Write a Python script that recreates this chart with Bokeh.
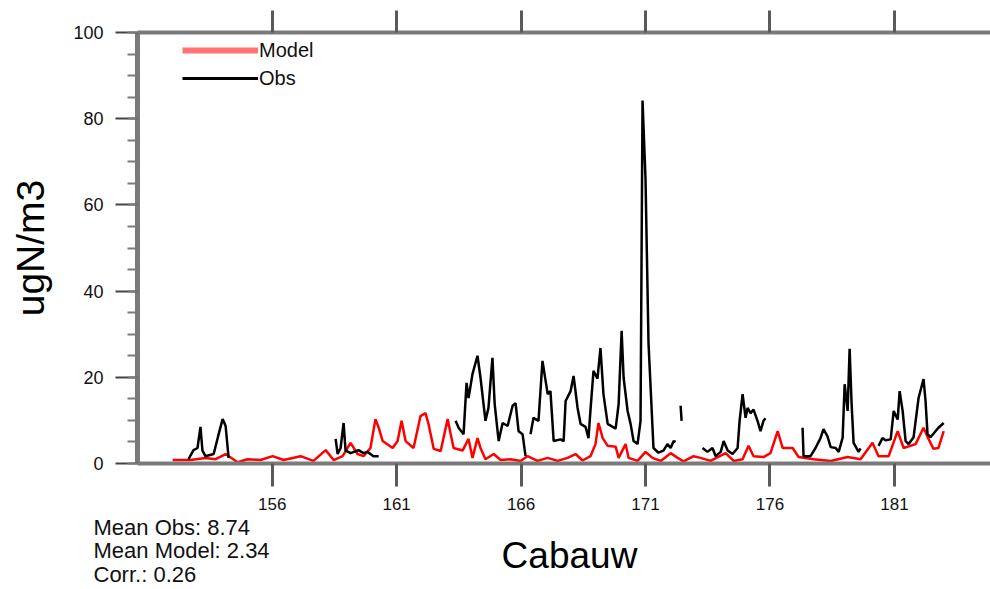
import numpy as np
from bokeh.plotting import figure
from bokeh.layouts import column
from bokeh.models import Range1d, LinearAxis, FixedTicker, Label, Legend, LegendItem
from bokeh.embed import file_html
from bokeh.resources import INLINE

nan = float("nan")

# ---------------- data (day of year, ugN/m3) ----------------
model_day = [152.00, 152.72, 153.32, 153.73, 154.13, 154.61, 155.01, 155.53, 156.02, 156.46,
             157.14, 157.66, 158.15, 158.47, 158.83, 159.15, 159.43, 159.67, 159.95, 160.15,
             160.28, 160.44, 160.84, 161.04, 161.20, 161.36, 161.68, 161.96, 162.16, 162.28,
             162.49, 162.77, 163.05, 163.17, 163.29, 163.65, 163.89, 164.05, 164.25, 164.37,
             164.57, 164.90, 165.18, 165.58, 165.98, 166.26, 166.66, 167.07, 167.47, 167.87,
             168.19, 168.47, 168.79, 168.99, 169.11, 169.28, 169.48, 169.80, 169.92, 170.20,
             170.32, 170.68, 171.00, 171.28, 171.61, 172.01, 172.29, 172.53, 172.93, 173.21,
             173.61, 174.22, 174.54, 174.90, 175.14, 175.34, 175.74, 176.02, 176.31, 176.51,
             176.91, 177.15, 177.75, 178.44, 179.12, 179.64, 180.12, 180.36, 180.77, 181.13,
             181.37, 181.85, 182.17, 182.37, 182.57, 182.77, 182.98]
model_val = [0.8, 0.8, 1.3, 1.0, 2.2, 0.3, 1.0, 0.8, 1.7, 0.8,
             1.7, 0.6, 3.1, 0.8, 1.7, 4.8, 2.2, 1.7, 3.6, 10.3,
             8.3, 5.2, 3.6, 5.2, 9.9, 5.2, 3.6, 11.0, 11.7, 9.2,
             3.4, 2.9, 10.3, 6.9, 3.6, 3.0, 5.7, 1.3, 5.9, 3.6,
             1.0, 2.2, 0.8, 1.0, 0.6, 1.7, 0.6, 1.3, 0.6, 1.3,
             2.2, 0.7, 1.7, 4.5, 9.4, 5.9, 4.1, 3.9, 1.3, 4.5,
             1.3, 0.6, 2.7, 1.3, 0.6, 2.4, 1.3, 0.5, 1.7, 1.3,
             0.6, 2.4, 0.6, 1.0, 4.1, 1.7, 1.5, 2.4, 7.5, 3.6,
             3.6, 1.5, 1.0, 0.6, 1.5, 1.0, 4.8, 1.7, 1.7, 7.5,
             3.6, 4.5, 8.3, 5.7, 3.4, 3.6, 7.5]

obs_day = [152.64, 152.84, 153.00, 153.12, 153.20, 153.32, 153.65, 153.85, 154.01, 154.13, 154.25, 154.30,
           158.55, 158.63, 158.75, 158.87, 158.95, 159.15, 159.47, 159.67, 159.83, 160.07, 160.28, 160.33,
           163.37, 163.49, 163.69, 163.81, 163.89, 164.05, 164.25, 164.37, 164.57, 164.69, 164.85, 164.94,
           165.10, 165.26, 165.46, 165.66, 165.78, 165.90, 166.06, 166.18, 166.25,
           166.38, 166.50, 166.70, 166.86, 167.07, 167.18, 167.31, 167.59, 167.71, 167.79, 167.99, 168.11,
           168.27, 168.39, 168.59, 168.71, 168.79, 168.91, 169.07, 169.19, 169.31, 169.48, 169.68, 169.80,
           169.92, 170.04, 170.12, 170.28, 170.40, 170.52, 170.68, 170.80, 170.88, 171.00, 171.12, 171.32,
           171.52, 171.72, 171.88, 172.01, 172.13, 172.21, 172.30,
           172.41, 172.45, 172.50,
           173.29, 173.49, 173.69, 173.82, 174.02, 174.14, 174.30, 174.50, 174.70, 174.78, 174.90, 175.02,
           175.10, 175.22, 175.34, 175.50, 175.62, 175.74, 175.82, 175.90,
           177.31, 177.35, 177.63, 177.83, 178.03, 178.15, 178.31, 178.44, 178.64, 178.76, 178.92, 179.00,
           179.12, 179.20, 179.28, 179.36, 179.56, 179.64, 179.70,
           180.36, 180.52, 180.64, 180.85, 180.97, 181.13, 181.21, 181.33, 181.45, 181.57, 181.77, 181.97,
           182.17, 182.25, 182.33, 182.45, 182.65, 182.77, 182.98]
obs_val = [1.0, 3.1, 3.6, 8.5, 3.0, 1.7, 2.2, 6.8, 10.3, 8.7, 1.3, nan,
           5.7, 2.2, 3.6, 9.4, 3.0, 2.4, 3.1, 2.4, 2.7, 1.7, 1.7, nan,
           9.9, 8.3, 6.8, 18.7, 15.2, 20.8, 25.0, 19.9, 9.9, 12.9, 24.5, 13.8,
           5.2, 9.4, 8.7, 13.4, 14.0, 7.5, 6.8, 1.7, nan,
           6.8, 10.6, 9.9, 23.8, 16.1, 16.8, 5.2, 5.6, 5.2, 14.5, 16.8, 20.3,
           12.9, 9.2, 8.5, 5.9, 12.5, 21.5, 19.7, 26.8, 16.1, 9.2, 8.5, 8.1,
           13.8, 30.8, 19.9, 12.2, 9.2, 5.2, 4.5, 9.9, 84.2, 66.0, 28.0, 3.6,
           2.5, 3.0, 4.5, 3.6, 5.2, 5.0, nan,
           13.4, 9.9, nan,
           3.6, 2.7, 3.6, 1.7, 2.7, 5.2, 3.0, 2.2, 3.6, 9.9, 16.1, 10.6,
           12.9, 11.7, 12.5, 9.9, 7.5, 9.9, 10.5, nan,
           8.3, 1.7, 1.7, 3.6, 5.9, 8.0, 6.3, 3.8, 3.6, 2.7, 6.0, 18.4,
           12.2, 26.6, 13.8, 4.8, 2.7, 3.5, nan,
           4.1, 5.9, 5.4, 5.6, 12.2, 10.2, 16.8, 12.2, 5.2, 4.5, 6.1, 15.2,
           19.6, 14.5, 6.8, 6.1, 7.5, 8.3, 9.4]

x_ticks = [156, 161, 166, 171, 176, 181]
y_ticks = [0, 20, 40, 60, 80, 100]
y_minor = list(range(0, 101, 5))
series_names = ["Model", "Obs"]
stats_lines = ["Mean Obs: 8.74", "Mean Model: 2.34", "Corr.: 0.26"]
station = "Cabauw"
y_title = "ugN/m3"

FONT = "Liberation Sans"
AXIS_GREY = "#7a7a7a"
TOP_H = 520          # height of the main chart figure
OVERLAP = 10         # strip is pulled up by this much
BOTTOM_H = 589 - TOP_H + OVERLAP

# ---------------- main chart ----------------
p = figure(width=990, height=TOP_H, output_backend="svg", toolbar_location=None,
           x_range=Range1d(150.59, 184.86), y_range=Range1d(0, 100),
           min_border_left=137, min_border_right=0, min_border_top=32, min_border_bottom=57)
p.outline_line_color = None
p.grid.visible = False
p.background_fill_color = "white"
p.border_fill_color = "white"

# bottom axis
xa = p.xaxis[0]
xa.ticker = FixedTicker(ticks=x_ticks, minor_ticks=[])
xa.axis_line_color = AXIS_GREY
xa.axis_line_width = 4
xa.major_tick_out = 23
xa.major_tick_in = 0
xa.minor_tick_out = 0
xa.minor_tick_in = 0
xa.major_tick_line_color = "#5a5a5a"
xa.major_tick_line_width = 3
xa.major_label_text_font = FONT
xa.major_label_text_font_size = "17px"
xa.major_label_text_color = "#111111"
xa.major_label_standoff = 11

# left axis
ya = p.yaxis[0]
ya.ticker = FixedTicker(ticks=y_ticks, minor_ticks=y_minor)
ya.axis_line_color = AXIS_GREY
ya.axis_line_width = 5
ya.major_tick_out = 22
ya.major_tick_in = 0
ya.minor_tick_out = 10
ya.minor_tick_in = 0
ya.major_tick_line_color = "#444444"
ya.major_tick_line_width = 2
ya.minor_tick_line_color = AXIS_GREY
ya.minor_tick_line_width = 2
ya.major_label_text_font = FONT
ya.major_label_text_font_size = "18px"
ya.major_label_text_color = "#111111"
ya.major_label_standoff = 12
ya.axis_label = y_title
ya.axis_label_text_font = FONT
ya.axis_label_text_font_size = "39px"
ya.axis_label_text_font_style = "normal"
ya.axis_label_text_color = "black"
ya.axis_label_standoff = 18

# top axis (ticks only, no labels)
top = LinearAxis(ticker=FixedTicker(ticks=x_ticks, minor_ticks=[]),
                 major_label_overrides={t: "" for t in x_ticks},
                 major_label_text_font_size="10px", major_label_standoff=0,
                 axis_line_color=AXIS_GREY, axis_line_width=4,
                 major_tick_out=22, major_tick_in=0, minor_tick_out=0, minor_tick_in=0,
                 major_tick_line_color="#5a5a5a", major_tick_line_width=3)
p.add_layout(top, "above")

# data lines
p.line(model_day, model_val, line_color="#ff0000", line_width=2.5)
p.line(obs_day, obs_val, line_color="black", line_width=2.5)

# legend (glyph-only renderers, one invisible NaN point each)
leg_model = p.line(x=[nan], y=[nan], line_color="#ff7373", line_width=6)
leg_obs = p.line(x=[nan], y=[nan], line_color="black", line_width=3)
legend = Legend(items=[LegendItem(label=series_names[0], renderers=[leg_model]),
                       LegendItem(label=series_names[1], renderers=[leg_obs])],
                location=(45, 371), orientation="vertical",
                glyph_width=76, glyph_height=28, label_height=28, label_standoff=1,
                spacing=0, padding=0, margin=0,
                label_text_font=FONT, label_text_font_size="20px", label_text_color="#111111",
                border_line_color=None, background_fill_alpha=0)
p.add_layout(legend, "center")

# ---------------- strip below: statistics and station name ----------------
q = figure(width=990, height=BOTTOM_H, output_backend="svg", toolbar_location=None,
           x_range=Range1d(0, 990), y_range=Range1d(0, BOTTOM_H),
           x_axis_location=None, y_axis_location=None,
           min_border_left=0, min_border_right=0, min_border_top=0, min_border_bottom=0)
q.outline_line_color = None
q.grid.visible = False
q.background_fill_alpha = 0
q.border_fill_alpha = 0
q.margin = (-OVERLAP, 0, 0, 0)   # pull the strip up against the chart

for fig in (p, q):
    try:
        fig.frame_align = False
    except Exception as exc:
        print("frame_align not available:", exc)

stat_baselines = [17, 40, 64]
for txt, by in zip(stats_lines, stat_baselines):
    q.add_layout(Label(x=93, y=by, x_units="canvas", y_units="canvas", text=txt,
                       text_font=FONT, text_font_size="22px", text_color="#111111",
                       text_baseline="alphabetic", text_align="left"))
q.add_layout(Label(x=569, y=45, x_units="canvas", y_units="canvas", text=station,
                   text_font=FONT, text_font_size="37px", text_color="black",
                   text_baseline="alphabetic", text_align="center"))

layout = column(p, q, spacing=0)
open("out.html", "w").write(file_html(layout, INLINE))
